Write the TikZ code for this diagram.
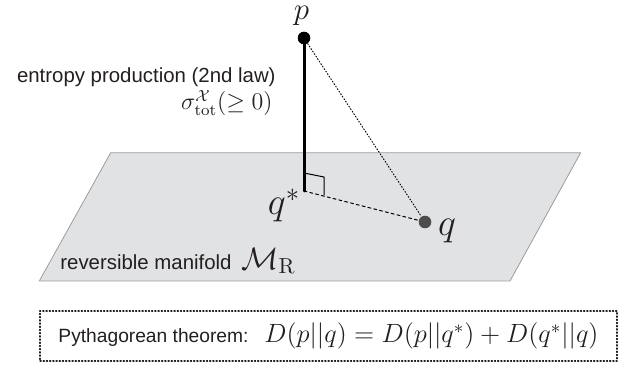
\RequirePackage{fix-cm}
\documentclass[tikz,border=0pt]{standalone}
\usepackage{fontspec}
\setsansfont{Liberation Sans}
\usetikzlibrary{positioning}

\definecolor{planefill}{HTML}{E1E2E4}
\definecolor{planeedge}{HTML}{9C9C9C}
\definecolor{qgray}{HTML}{4D4D4D}
\definecolor{inkgray}{HTML}{231F20}

\tikzset{
  dot/.style={circle, fill=black, inner sep=0pt, minimum size=6.3pt},
  lbl/.style={inner sep=0pt, text=inkgray, font=\fontsize{12}{14}\selectfont},
  txt/.style={inner sep=0pt, text=inkgray, font=\sffamily\fontsize{10.2}{12}\selectfont},
}

\begin{document}
\begin{tikzpicture}[x=0.5pt, y=-0.5pt, line cap=round, line join=round]
	\useasboundingbox (0,0) rectangle (633,369);

	% Ebene M_R
	\filldraw[fill=planefill, draw=planeedge, line width=0.4pt]
		(110.7,152.7) -- (580.7,152.7) -- (510,281) -- (39.3,281) -- cycle;

	% Punkte
	\node[dot] (p) at (304,38) {};
	\coordinate (qs) at (304,191);
	\node[dot, fill=qgray] (q) at (425,222) {};

	% Lot und Verbindungen
	\draw[line width=1.5pt] (p.center) -- (qs);
	\draw[line width=0.5pt] (304,173) -- (324,177) -- (324,195);
	\draw[densely dotted, line width=0.5pt] (p) -- (q);
	\draw[dash pattern=on 1.5pt off 1.5pt, line width=0.5pt] (qs) -- (q);

	% Beschriftungen
	\node[lbl, font=\fontsize{15.5}{18}\selectfont, anchor=base] (plab) at (301.5,20) {$p$};
	\node[lbl, font=\fontsize{19}{22}\selectfont, anchor=base] (qslab) at (284,215) {$q^*$};
	\node[lbl, font=\fontsize{19}{22}\selectfont, anchor=base] (qlab) at (447,235) {$q$};

	\node[txt, anchor=east] (entr) at (276,77) {entropy production (2nd law)};
	\node[lbl, anchor=east] (sig) at (273,103) {$\sigma^{\mathcal{X}}_{\mathrm{tot}}(\geq 0)$};

	\node[txt, anchor=west] (rev) at (60,262) {reversible manifold};
	\node[lbl, font=\fontsize{15.5}{18}\selectfont, anchor=base west] (MR)
		at ([xshift=4.5pt]rev.base east) {$\mathcal{M}_{\mathrm{R}}$};

	% Satz des Pythagoras
	\node[draw=inkgray, densely dotted, line width=0.6pt, minimum width=288.5pt,
		minimum height=25pt, inner sep=0pt] (thm) at (328.5,336)
		{\sffamily\fontsize{9.6}{12}\selectfont\color{inkgray}Pythagorean theorem:\hspace{8pt}%
		{\fontsize{13.2}{15}\selectfont $D(p||q)=D(p||q^*)+D(q^*||q)$}};
\end{tikzpicture}
\end{document}
